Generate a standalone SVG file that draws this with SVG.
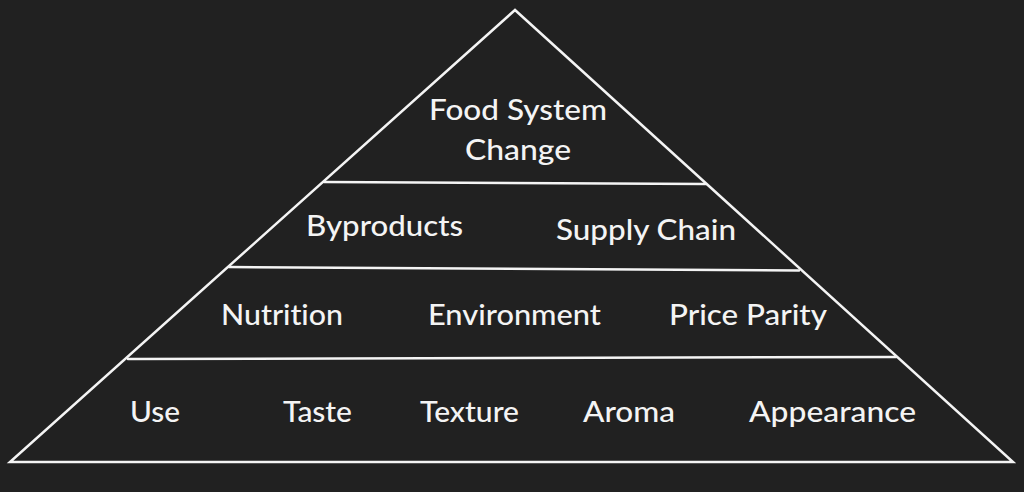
<svg xmlns="http://www.w3.org/2000/svg" width="1024" height="492" viewBox="0 0 1024 492">
<style>
.ln{stroke:#f4f4f4;stroke-width:2.5;fill:none;stroke-linecap:round;stroke-linejoin:miter}
.t{font-family:"Lato","Noto Sans",sans-serif;font-size:28px;font-weight:500;fill:#f4f4f4;text-anchor:middle;font-variant-ligatures:none;font-feature-settings:"liga" 0}
</style>
<rect width="1024" height="492" fill="#212121"/>
<g id="connectors">
<polygon class="ln" points="515,10 1013,462 10,462"/>
<line class="ln" x1="324" y1="182" x2="706" y2="184"/>
<line class="ln" x1="229" y1="267" x2="799" y2="270.5"/>
<line class="ln" x1="128" y1="359" x2="896" y2="357"/>
</g>
<g id="food-system-change">
<text class="t" x="518" y="120" textLength="178" lengthAdjust="spacingAndGlyphs">Food System</text>
<text class="t" x="518" y="160" textLength="106" lengthAdjust="spacingAndGlyphs">Change</text>
</g>
<g id="byproducts"><text class="t" x="384.5" y="236" textLength="157" lengthAdjust="spacingAndGlyphs">Byproducts</text></g>
<g id="supply-chain"><text class="t" x="646" y="240" textLength="180" lengthAdjust="spacingAndGlyphs">Supply Chain</text></g>
<g id="nutrition"><text class="t" x="282" y="325" textLength="122" lengthAdjust="spacingAndGlyphs">Nutrition</text></g>
<g id="environment"><text class="t" x="514.5" y="325" textLength="173" lengthAdjust="spacingAndGlyphs">Environment</text></g>
<g id="price-parity"><text class="t" x="748" y="325" textLength="158" lengthAdjust="spacingAndGlyphs">Price Parity</text></g>
<g id="use"><text class="t" x="155" y="422" textLength="50" lengthAdjust="spacingAndGlyphs">Use</text></g>
<g id="taste"><text class="t" x="317.5" y="422" textLength="69" lengthAdjust="spacingAndGlyphs">Taste</text></g>
<g id="texture"><text class="t" x="469.5" y="422" textLength="99" lengthAdjust="spacingAndGlyphs">Texture</text></g>
<g id="aroma"><text class="t" x="629" y="422" textLength="92" lengthAdjust="spacingAndGlyphs">Aroma</text></g>
<g id="appearance"><text class="t" x="832.5" y="422" textLength="167" lengthAdjust="spacingAndGlyphs">Appearance</text></g>
</svg>
